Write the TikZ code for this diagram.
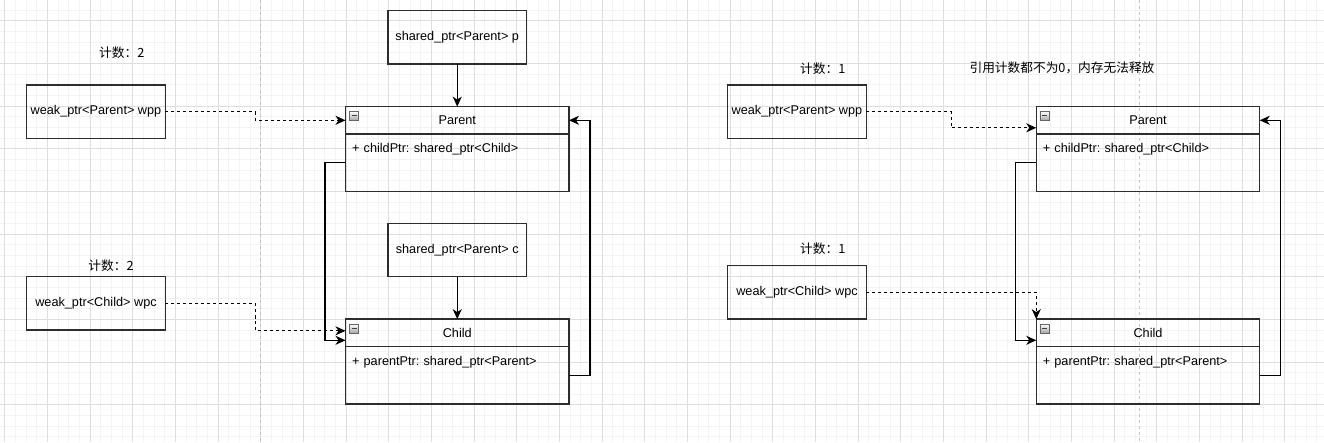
\documentclass[tikz,border=0pt]{standalone}
\usepackage{fontspec}
\setmainfont{Liberation Sans}
\newfontfamily\cjk{Noto Sans CJK SC}
\usetikzlibrary{arrows.meta,calc,positioning}
\definecolor{gridminor}{RGB}{243,243,243}
\definecolor{gridmajor}{RGB}{222,222,222}
\definecolor{pagebreak}{RGB}{195,195,195}
\definecolor{boxline}{RGB}{45,45,45}

\begin{document}
\begin{tikzpicture}[x=1pt,y=-1pt,>={Stealth[length=10pt,width=9pt,inset=3pt]},
    font=\fontsize{12.7}{15}\selectfont\frenchspacing,
    ptrbox/.style={draw=boxline,line width=1.4pt,outer sep=0pt,minimum width=138.7pt,minimum height=53.3pt,inner sep=0pt},
    classhead/.style={draw=boxline,line width=1.4pt,outer sep=0pt,minimum width=223.5pt,minimum height=27.3pt,inner sep=0pt},
    classbody/.style={draw=boxline,line width=1.4pt,outer sep=0pt,text width=210.5pt,align=left,inner xsep=6.5pt,inner ysep=0pt,text height=18.6pt,text depth=39.1pt},
    foldicon/.style={draw=black!60,line width=0.6pt,top color=white,bottom color=black!35,minimum size=9pt,inner sep=0pt,
      path picture={\draw[black!75,line width=1pt] ([xshift=2pt]path picture bounding box.west) -- ([xshift=-2pt]path picture bounding box.east);}},
    countlabel/.style={font=\fontsize{12.7}{15}\selectfont\cjk},
    conn/.style={->,line width=1.1pt},
    weakconn/.style={->,line width=1.1pt,dash pattern=on 3pt off 3pt}]
  \useasboundingbox (0,0) rectangle (1324,442);
  \fill[white] (0,0) rectangle (1324,442);
  \foreach \i in {0,...,123}
    \draw[gridminor,line width=0.8pt] ({4.7+10.667*\i},0) -- ({4.7+10.667*\i},442);
  \foreach \j in {-1,...,39}
    \draw[gridminor,line width=0.8pt] (0,{20.7+10.667*\j}) -- (1324,{20.7+10.667*\j});
  \foreach \i in {0,...,30}
    \draw[gridmajor,line width=0.8pt] ({4.7+42.667*\i},0) -- ({4.7+42.667*\i},442);
  \foreach \j in {0,...,9}
    \draw[gridmajor,line width=0.8pt] (0,{20.7+42.667*\j}) -- (1324,{20.7+42.667*\j});
  \draw[pagebreak,line width=1pt,dash pattern=on 3pt off 3pt] (260.5,0) -- (260.5,442);
  \draw[pagebreak,line width=1pt,dash pattern=on 3pt off 3pt] (1139,0) -- (1139,442);

  \node[ptrbox] (ptrP) at (457.25,37.3) {shared\_ptr<Parent> p};
  \node[ptrbox] (ptrC) at (457.25,250) {shared\_ptr<Parent> c};
  \node[ptrbox] (wppA) at (96,111.7) {weak\_ptr<Parent> wpp};
  \node[ptrbox] (wpcA) at (96,303.3) {weak\_ptr<Child> wpc};
  \node[countlabel] (cntPA) at (121.8,52.3) {计数：2};
  \node[countlabel] (cntCA) at (111,265.7) {计数：2};
  \node[classhead] (parentA) at (457.25,120.3) {Parent};
  \node[classbody,below=0pt of parentA] (parentbodyA) {+ childPtr: shared\_ptr<Child>};
  \node[classhead] (childA) at (457.25,332.8) {Child};
  \node[classbody,below=0pt of childA] (childbodyA) {+ parentPtr: shared\_ptr<Parent>};
  \node[foldicon] (foldPA) at ($(parentA.north west)+(8.5,9.3)$) {};
  \node[foldicon] (foldCA) at ($(childA.north west)+(8.5,9.3)$) {};

  \node[ptrbox] (wppB) at (797,111.7) {weak\_ptr<Parent> wpp};
  \node[ptrbox] (wpcB) at (797,292.3) {weak\_ptr<Child> wpc};
  \node[countlabel] (cntPB) at (822.8,68.3) {计数：1};
  \node[countlabel] (cntCB) at (822.8,249) {计数：1};
  \node[countlabel] (note) at (1062,68) {引用计数都不为0，内存无法释放};
  \node[classhead] (parentB) at (1148,120.3) {Parent};
  \node[classbody,below=0pt of parentB] (parentbodyB) {+ childPtr: shared\_ptr<Child>};
  \node[classhead] (childB) at (1148,332.8) {Child};
  \node[classbody,below=0pt of childB] (childbodyB) {+ parentPtr: shared\_ptr<Parent>};
  \node[foldicon] (foldPB) at ($(parentB.north west)+(8.5,9.3)$) {};
  \node[foldicon] (foldCB) at ($(childB.north west)+(8.5,9.3)$) {};

  \draw[conn] (ptrP) -- (parentA);
  \draw[conn] (ptrC) -- (childA);
  \draw[weakconn] (wppA.east) -| ($(wppA.east)!.5!(parentA.west)$) |- (parentA.west);
  \draw[weakconn] (wpcA.east) -| ($(wpcA.east)!.5!(childA.west)$) |- ($(childA.west)+(0,-2)$);
  \draw[conn] (parentbodyA.west) -- ++(-20.5,0) |- ($(childA.west)+(0,7.5)$);
  \draw[conn] (childbodyA.east) -- ++(21,0) |- (parentA.east);

  \draw[weakconn] (wppB.east) -| ($(wppB.east)!.5!(parentB.west)$) |- ($(parentB.west)+(0,7.5)$);
  \draw[weakconn] (wpcB.east) -| (childB.north west);
  \draw[conn] (parentbodyB.west) -- ++(-21,0) |- ($(childB.west)+(0,7.5)$);
  \draw[conn] (childbodyB.east) -- ++(21,0) |- (parentB.east);
\end{tikzpicture}
\end{document}
